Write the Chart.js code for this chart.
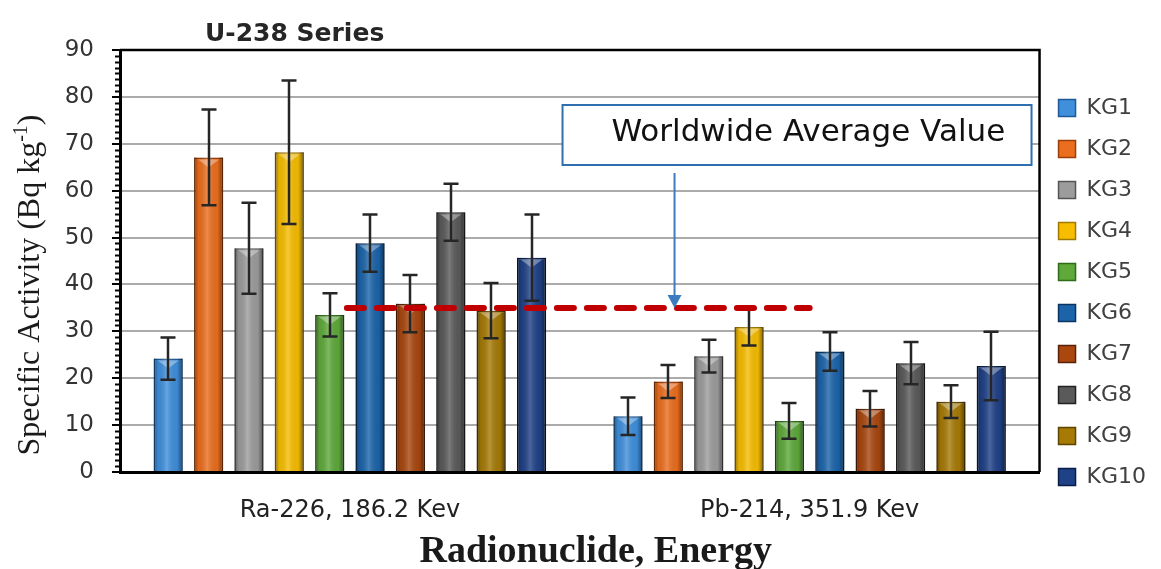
<!DOCTYPE html>
<html>
<head>
<meta charset="utf-8">
<script src="https://cdn.jsdelivr.net/npm/chart.js@4/dist/chart.umd.min.js"></script>
<style>
  html, body { margin: 0; padding: 0; background: #ffffff; }
  canvas { display: block; }
</style>
</head>
<body>
<canvas id="chart" width="1161" height="569"></canvas>
<script>
// ---- data ----
const categories = ['Ra-226, 186.2 Kev', 'Pb-214, 351.9 Kev'];
const samples = ['KG1', 'KG2', 'KG3', 'KG4', 'KG5', 'KG6', 'KG7', 'KG8', 'KG9', 'KG10'];
const ra226 = [24.2, 67.1, 47.7, 68.2, 33.5, 48.8, 35.9, 55.4, 34.4, 45.7];
const ra226Err = [4.5, 10.2, 9.7, 15.3, 4.6, 6.1, 6.1, 6.1, 5.9, 9.2];
const pb214 = [11.9, 19.3, 24.7, 30.9, 10.9, 25.7, 13.5, 23.2, 15.0, 22.6];
const pb214Err = [4.0, 3.5, 3.5, 3.9, 3.8, 4.1, 3.8, 4.5, 3.5, 7.3];
const worldAverage = 35;
const yMin = 0, yMax = 90, yStep = 10;

// ---- styling ----
const fills   = ['#3f8fdc', '#eb6e1e', '#9c9c9c', '#f7bd00', '#5ea93a', '#1c64aa', '#a9470f', '#5a5a5a', '#a67a05', '#1f4187'];
const borders = ['#1f5a96', '#9a3f0a', '#555555', '#a07a00', '#2f6a1a', '#0b3560', '#5a2206', '#222222', '#5d4400', '#0a1d45'];
const SANS = '"DejaVu Sans", sans-serif';
const SERIF = '"Liberation Serif", "Times New Roman", serif';

const datasets = samples.map((name, i) => ({
  label: name,
  data: [ra226[i], pb214[i]],
  errors: [ra226Err[i], pb214Err[i]],
  backgroundColor: fills[i],
  borderColor: borders[i],
  borderWidth: 1.5,
  categoryPercentage: 0.878,
  barPercentage: 0.72
}));

// Extra drawing: plot frame, minor ticks, bar shading, error bars,
// reference line with its callout, and the titles.
const decorations = {
  id: 'decorations',
  beforeDatasetsDraw(chart) {
    const { ctx, chartArea: a, scales: { y } } = chart;
    ctx.save();
    // frame on top and right
    ctx.strokeStyle = '#000';
    ctx.lineWidth = 2.5;
    ctx.beginPath();
    ctx.moveTo(a.left, a.top);
    ctx.lineTo(a.right, a.top);
    ctx.lineTo(a.right, a.bottom);
    ctx.stroke();
    // minor ticks on the value axis
    ctx.lineWidth = 2;
    const minor = yStep / 8;
    for (let v = yMin; v <= yMax + 1e-6; v += minor) {
      if (Math.abs(v / yStep - Math.round(v / yStep)) < 1e-6) continue;
      const py = Math.round(y.getPixelForValue(v)) + 0.5;
      ctx.beginPath();
      ctx.moveTo(a.left - 5, py);
      ctx.lineTo(a.left, py);
      ctx.stroke();
    }
    ctx.restore();
  },
  afterDatasetsDraw(chart) {
    const { ctx, chartArea: a, scales: { x, y } } = chart;
    ctx.save();
    // bevel shading on every bar
    chart.data.datasets.forEach((ds, di) => {
      const meta = chart.getDatasetMeta(di);
      meta.data.forEach((bar) => {
        const p = bar.getProps(['x', 'y', 'base', 'width'], true);
        const l = p.x - p.width / 2, r = p.x + p.width / 2;
        const g = ctx.createLinearGradient(l, 0, r, 0);
        g.addColorStop(0, 'rgba(0,0,0,0.42)');
        g.addColorStop(0.15, 'rgba(0,0,0,0.06)');
        g.addColorStop(0.45, 'rgba(255,255,255,0.20)');
        g.addColorStop(0.8, 'rgba(0,0,0,0.04)');
        g.addColorStop(1, 'rgba(0,0,0,0.48)');
        ctx.fillStyle = g;
        ctx.fillRect(l, p.y, p.width, p.base - p.y);
        // small highlight notch at the top
        ctx.fillStyle = 'rgba(255,255,255,0.35)';
        ctx.beginPath();
        ctx.moveTo(l + 4, p.y + 2);
        ctx.lineTo(r - 4, p.y + 2);
        ctx.lineTo(p.x, p.y + 10);
        ctx.closePath();
        ctx.fill();
      });
    });
    // error bars
    ctx.strokeStyle = '#262626';
    ctx.lineWidth = 2.5;
    chart.data.datasets.forEach((ds, di) => {
      const meta = chart.getDatasetMeta(di);
      meta.data.forEach((bar, k) => {
        const v = ds.data[k], e = ds.errors[k];
        const px = Math.round(bar.x);
        const yt = y.getPixelForValue(v + e), yb = y.getPixelForValue(v - e);
        ctx.beginPath();
        ctx.moveTo(px, yt); ctx.lineTo(px, yb);
        ctx.moveTo(px - 7.5, yt); ctx.lineTo(px + 7.5, yt);
        ctx.moveTo(px - 7.5, yb); ctx.lineTo(px + 7.5, yb);
        ctx.stroke();
      });
    });
    // worldwide average reference line
    const yAvg = y.getPixelForValue(worldAverage);
    ctx.strokeStyle = '#c00000';
    ctx.lineWidth = 6;
    ctx.lineCap = 'round';
    ctx.setLineDash([17, 13]);
    ctx.beginPath();
    ctx.moveTo(x.getPixelForValue(0) - 3, yAvg);
    ctx.lineTo(x.getPixelForValue(1), yAvg);
    ctx.stroke();
    ctx.setLineDash([]);
    ctx.lineCap = 'butt';
    // callout box
    const bRight = a.right - 8, bLeft = bRight - 469;
    const bTop = a.top + 55, bBottom = a.top + 115;
    ctx.fillStyle = '#fff';
    ctx.fillRect(bLeft, bTop, bRight - bLeft, bBottom - bTop);
    ctx.strokeStyle = '#2e6fb0';
    ctx.lineWidth = 2;
    ctx.strokeRect(bLeft, bTop, bRight - bLeft, bBottom - bTop);
    ctx.fillStyle = '#111';
    ctx.font = '31px ' + SANS;
    ctx.textBaseline = 'middle';
    ctx.textAlign = 'left';
    ctx.fillText('Worldwide Average Value', bLeft + 49, (bTop + bBottom) / 2 - 2);
    // arrow pointing at the line
    const ax = bLeft + 112;
    ctx.strokeStyle = '#3b7cc0';
    ctx.fillStyle = '#3b7cc0';
    ctx.lineWidth = 2;
    ctx.beginPath();
    ctx.moveTo(ax, bBottom + 8);
    ctx.lineTo(ax, yAvg - 10);
    ctx.stroke();
    ctx.beginPath();
    ctx.moveTo(ax - 7, yAvg - 13);
    ctx.lineTo(ax + 7, yAvg - 13);
    ctx.lineTo(ax, yAvg);
    ctx.closePath();
    ctx.fill();
    ctx.restore();
  },
  afterDraw(chart) {
    const { ctx, chartArea: a } = chart;
    ctx.save();
    // chart title
    ctx.fillStyle = '#262626';
    ctx.font = 'bold 25px ' + SANS;
    ctx.textAlign = 'left';
    ctx.textBaseline = 'alphabetic';
    ctx.fillText('U-238 Series', a.left + 85, 41);
    // x-axis title
    ctx.fillStyle = '#1a1a1a';
    ctx.font = 'bold 38px ' + SERIF;
    ctx.textAlign = 'center';
    ctx.fillText('Radionuclide, Energy', (a.left + a.right) / 2 + 16, 562);
    // y-axis title with superscript unit
    ctx.translate(31, (a.top + a.bottom) / 2 + 24);
    ctx.rotate(-Math.PI / 2);
    const mainFont = '32px ' + SERIF, supFont = '20px ' + SERIF;
    const p1 = 'Specific Activity (Bq kg', p2 = '-1', p3 = ')';
    ctx.font = mainFont; const w1 = ctx.measureText(p1).width, w3 = ctx.measureText(p3).width;
    ctx.font = supFont; const w2 = ctx.measureText(p2).width;
    let cx = -(w1 + w2 + w3) / 2;
    ctx.textAlign = 'left';
    ctx.textBaseline = 'middle';
    ctx.font = mainFont; ctx.fillText(p1, cx, 0); cx += w1;
    ctx.font = supFont; ctx.fillText(p2, cx, -9); cx += w2;
    ctx.font = mainFont; ctx.fillText(p3, cx, 0);
    ctx.restore();
  }
};

new Chart(document.getElementById('chart'), {
  type: 'bar',
  data: { labels: categories, datasets },
  options: {
    responsive: false,
    animation: false,
    devicePixelRatio: 1,
    layout: { padding: { top: 50, bottom: 34, right: 5, left: 0 } },
    plugins: {
      title: { display: false },
      tooltip: { enabled: false },
      legend: {
        position: 'right',
        align: 'center',
        labels: {
          font: { family: SANS, size: 22 },
          color: '#404040',
          boxWidth: 17,
          boxHeight: 17,
          padding: 19
        }
      }
    },
    scales: {
      x: {
        grid: { display: false, drawTicks: false },
        border: { display: true, color: '#000', width: 3 },
        ticks: { font: { family: SANS, size: 24 }, color: '#222', padding: 24 },
        afterFit(s) { s.height = 63; }
      },
      y: {
        min: yMin, max: yMax,
        ticks: { stepSize: yStep, font: { family: SANS, size: 23 }, color: '#333', padding: 18 },
        grid: { color: '#ababab', lineWidth: 2, tickLength: 8, tickColor: '#000', tickWidth: 2 },
        border: { display: true, color: '#000', width: 3 },
        afterFit(s) { s.width = 120; }
      }
    }
  },
  plugins: [decorations]
});
</script>
</body>
</html>
